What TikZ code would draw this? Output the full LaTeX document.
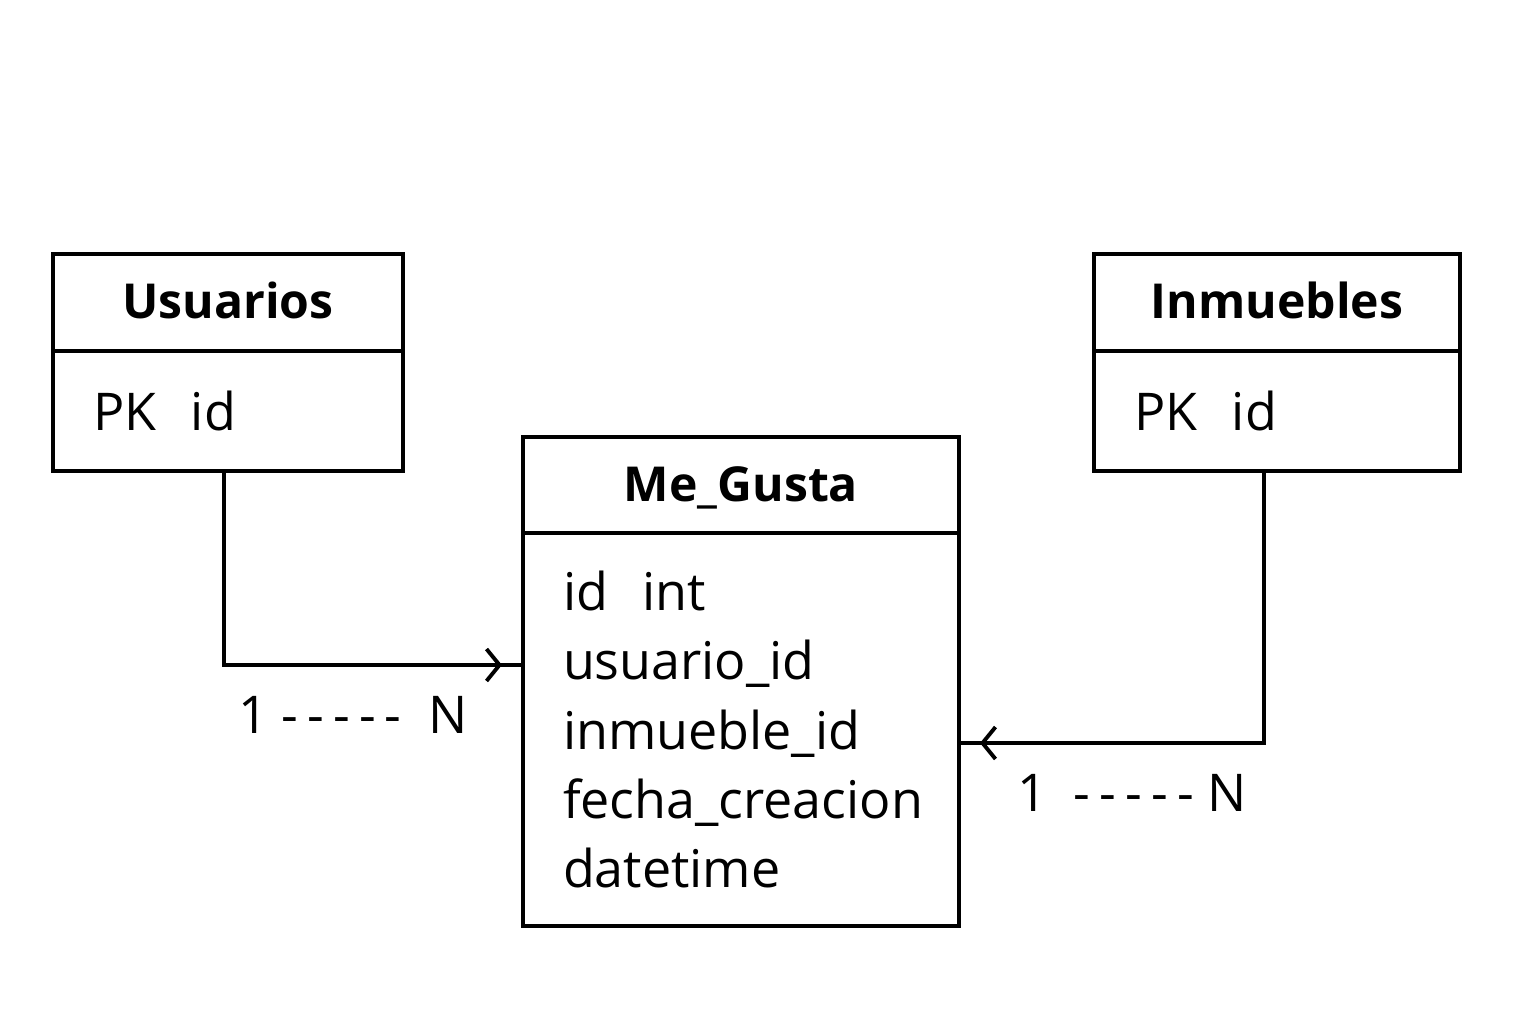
\documentclass[tikz,border=0pt]{standalone}
\usepackage{fontspec}
\setmainfont{Open Sans}
\usetikzlibrary{arrows.meta,decorations.markings}

\newcommand{\dashrun}{-\kern2.6pt-\kern2.6pt-\kern2.6pt-\kern2.6pt-}

\tikzset{
  hdr/.style={draw,line width=1.1pt,anchor=north west,minimum height=0.97cm,
    inner sep=0pt,outer sep=0pt,text height=0.92em,text depth=0pt,
    font=\fontsize{13.7}{16}\selectfont\bfseries},
  fields/.style={draw,line width=1.1pt,anchor=north,inner xsep=0.4cm,inner ysep=0pt,
    outer sep=0pt,align=left,font=\fontsize{14.8}{19.7}\selectfont},
  rel/.style={line width=1.1pt,postaction={decorate},
    decoration={markings,mark=at position -2.1mm with {\arrow{Straight Barb[length=1.3mm,width=3.2mm]}}}},
  card/.style={font=\fontsize{14.8}{17}\selectfont}
}

\begin{document}
\begin{tikzpicture}
  \useasboundingbox (0,0) rectangle (15.36,10.24);

  \node[hdr,minimum width=3.5cm] (usuarios) at (0.53,7.70) {Usuarios};
  \node[fields,text width=2.7cm,minimum height=1.2cm] (usuariosf) at (usuarios.south) {PK\ \ id};

  \node[hdr,minimum width=3.66cm] (inmuebles) at (10.94,7.70) {Inmuebles};
  \node[fields,text width=2.86cm,minimum height=1.2cm] (inmueblesf) at (inmuebles.south) {PK\ \ id};

  \node[hdr,minimum width=4.36cm,minimum height=0.96cm] (megusta) at (5.23,5.87) {Me\_Gusta};
  \node[fields,text width=3.56cm,minimum height=3.93cm] (megustaf) at (megusta.south)
    {id\ \ int\\usuario\_id\\inmueble\_id\\fecha\_creacion\\datetime};

  \draw[rel] ([xshift=-0.04cm]usuariosf.south) |- ([yshift=0.645cm]megustaf.west);
  \draw[rel] ([xshift=-0.13cm]inmueblesf.south) |- ([yshift=-0.135cm]megustaf.east);

  \node[card] (cardu) at (3.53,3.09) {1 \dashrun\ \ N};
  \node[card] (cardi) at (11.32,2.31) {1\ \ \dashrun\ N};
\end{tikzpicture}
\end{document}
